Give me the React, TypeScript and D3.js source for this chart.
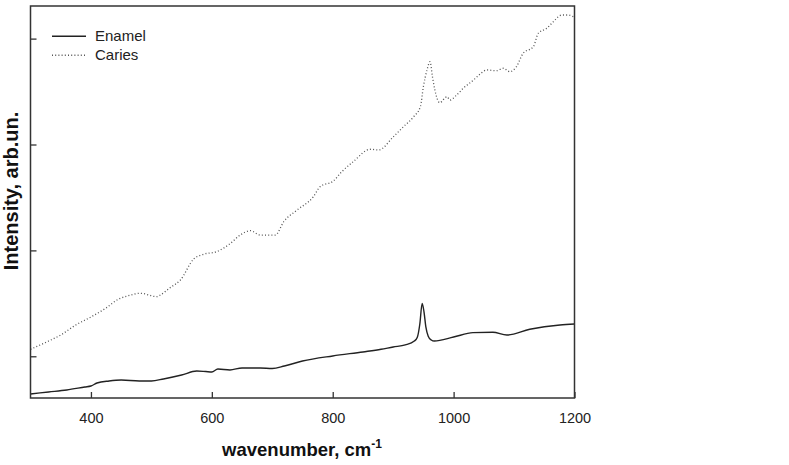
import React, { useEffect, useRef } from 'react';
import * as d3 from 'd3';

// wavenumber (cm-1) and intensity (arb. units)
const enamelX = [300, 330, 360, 390, 400, 410, 430, 450, 480, 500, 520, 550, 575, 590, 600, 610, 630, 650, 680, 700, 720, 750, 800, 850, 880, 900, 920, 935, 940, 944, 948, 951, 954, 958, 963, 968, 1000, 1032, 1065, 1088, 1126, 1176, 1200];
const enamelY = [0.644, 0.663, 0.682, 0.71, 0.719, 0.748, 0.767, 0.776, 0.767, 0.767, 0.786, 0.823, 0.861, 0.856, 0.852, 0.88, 0.871, 0.89, 0.89, 0.885, 0.908, 0.955, 1.003, 1.041, 1.066, 1.088, 1.107, 1.144, 1.18, 1.3, 1.5, 1.42, 1.28, 1.19, 1.154, 1.144, 1.182, 1.223, 1.227, 1.201, 1.255, 1.296, 1.305];

const cariesX = [300, 330, 350, 375, 400, 425, 446, 460, 482, 509, 515, 531, 548, 570, 586, 608, 631, 647, 664, 680, 705, 719, 741, 768, 779, 801, 815, 834, 862, 876, 900, 917, 934, 945, 950, 956, 961, 965, 969, 977, 989, 994, 1005, 1016, 1033, 1044, 1055, 1071, 1082, 1093, 1104, 1115, 1132, 1140, 1154, 1165, 1179, 1189, 1198];
const cariesY = [1.066, 1.144, 1.201, 1.296, 1.371, 1.456, 1.541, 1.569, 1.595, 1.563, 1.579, 1.648, 1.72, 1.919, 1.963, 1.988, 2.067, 2.145, 2.186, 2.145, 2.145, 2.271, 2.381, 2.507, 2.602, 2.655, 2.743, 2.838, 2.955, 2.948, 3.071, 3.168, 3.263, 3.357, 3.546, 3.704, 3.782, 3.64, 3.515, 3.395, 3.451, 3.42, 3.467, 3.531, 3.609, 3.666, 3.704, 3.697, 3.72, 3.688, 3.735, 3.861, 3.924, 4.05, 4.097, 4.16, 4.223, 4.223, 4.207];

const xTicks = [400, 600, 800, 1000, 1200];
const yTicks = [1, 2, 3, 4];
const legendNames = ['Enamel', 'Caries'];

const FONT = '"Liberation Sans", Arial, Helvetica, sans-serif';

export default function App() {
  const ref = useRef<SVGSVGElement>(null);

  useEffect(() => {
    const width = 789;
    const height = 465;
    const m = { left: 30.5, right: 574.5, top: 6, bottom: 398 };

    const svg = d3.select(ref.current);
    svg.selectAll('*').remove();
    svg.attr('width', width).attr('height', height);

    const x = d3.scaleLinear().domain([300, 1200]).range([m.left, m.right]);
    const y = d3.scaleLinear().domain([0.606, 4.308]).range([m.bottom, m.top]);

    const line = d3.line<[number, number]>()
      .x(d => x(d[0]))
      .y(d => y(d[1]))
      .curve(d3.curveMonotoneX);

    const enamel = enamelX.map((v, i) => [v, enamelY[i]] as [number, number]);
    const caries = cariesX.map((v, i) => [v, cariesY[i]] as [number, number]);

    svg.append('path')
      .attr('d', line(caries))
      .attr('fill', 'none')
      .attr('stroke', '#555')
      .attr('stroke-width', 1.3)
      .attr('stroke-dasharray', '1,2.2');

    svg.append('path')
      .attr('d', line(enamel))
      .attr('fill', 'none')
      .attr('stroke', '#222')
      .attr('stroke-width', 1.4);

    // frame
    svg.append('rect')
      .attr('x', m.left).attr('y', m.top)
      .attr('width', m.right - m.left).attr('height', m.bottom - m.top)
      .attr('fill', 'none').attr('stroke', '#333').attr('stroke-width', 1.5);

    // x axis, ticks inward
    const xAxis = svg.append('g')
      .attr('transform', `translate(0,${m.bottom})`)
      .call(d3.axisBottom(x).tickValues(xTicks).tickSizeInner(-6).tickSizeOuter(0).tickPadding(15).tickFormat(d3.format('d')));
    xAxis.select('.domain').remove();
    xAxis.selectAll('line').attr('stroke', '#333').attr('stroke-width', 1.3);
    xAxis.selectAll('text').attr('font-family', FONT).attr('font-size', 14.5).attr('fill', '#222');

    const yAxis = svg.append('g')
      .attr('transform', `translate(${m.left},0)`)
      .call(d3.axisLeft(y).tickValues(yTicks).tickSizeInner(-6).tickSizeOuter(0).tickFormat(() => ''));
    yAxis.select('.domain').remove();
    yAxis.selectAll('line').attr('stroke', '#333').attr('stroke-width', 1.3);

    // axis titles
    const xt = svg.append('text')
      .attr('x', 302).attr('y', 456)
      .attr('text-anchor', 'middle')
      .attr('font-family', FONT).attr('font-weight', 'bold').attr('font-size', 18.5)
      .attr('fill', '#111');
    xt.append('tspan').text('wavenumber, cm');
    xt.append('tspan').attr('dy', -8).attr('font-size', 12).text('-1');

    svg.append('text')
      .attr('transform', 'translate(18,191) rotate(-90)')
      .attr('text-anchor', 'middle')
      .attr('font-family', FONT).attr('font-weight', 'bold').attr('font-size', 20)
      .attr('fill', '#111')
      .text('Intensity, arb.un.');

    // legend
    const legend = svg.append('g');
    legendNames.forEach((name, i) => {
      const ly = 36.3 + i * 19;
      legend.append('line')
        .attr('x1', 52).attr('x2', 86).attr('y1', ly).attr('y2', ly)
        .attr('stroke', i === 0 ? '#222' : '#555')
        .attr('stroke-width', 1.4)
        .attr('stroke-dasharray', i === 0 ? null : '1,2.2');
      legend.append('text')
        .attr('x', 95).attr('y', ly + 5)
        .attr('font-family', FONT).attr('font-size', 15)
        .attr('fill', '#222')
        .text(name);
    });
  }, []);

  return <svg ref={ref} style={{ position: 'absolute', left: 0, top: 0 }} />;
}
